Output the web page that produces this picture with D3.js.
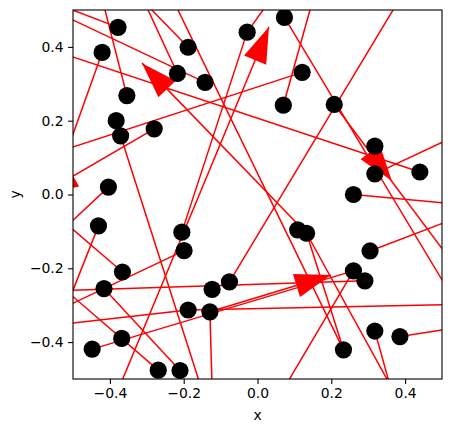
<!DOCTYPE html>
<html><head><meta charset="utf-8">
<script src="https://cdn.jsdelivr.net/npm/d3@7"></script>
<style>body{margin:0;background:#fff;} text{font-family:"DejaVu Sans",sans-serif;}</style>
</head><body><svg id="c" width="452" height="432"></svg>
<script>
const nodeX = [-0.378,-0.421,-0.354,-0.383,-0.371,-0.280,-0.188,-0.217,-0.142,-0.028,0.073,0.121,0.070,0.208,0.318,0.318,0.440,0.260,-0.404,-0.431,-0.205,-0.199,-0.366,-0.416,0.109,0.133,0.305,0.260,0.291,-0.123,-0.076,-0.188,-0.129,-0.368,-0.448,-0.269,-0.210,0.233,0.318,0.386];
const nodeY = [0.453,0.385,0.268,0.200,0.159,0.178,0.399,0.328,0.304,0.440,0.480,0.331,0.242,0.244,0.131,0.056,0.061,0.000,0.020,-0.085,-0.102,-0.152,-0.210,-0.255,-0.096,-0.105,-0.153,-0.207,-0.234,-0.257,-0.237,-0.313,-0.318,-0.390,-0.419,-0.476,-0.477,-0.421,-0.370,-0.385];

const edgeX1 = [-0.378,-0.142,-0.354,-0.217,-0.188,-0.255,-0.421,-0.514,-0.280,-0.589,0.133,-0.389,-0.028,0.070,0.073,0.208,0.416,0.318,0.260,0.305,0.386,-0.404,-0.366,-0.431,-0.589,-0.589,-0.589,-0.416,-0.589,-0.188,-0.448,-0.129,0.260,0.133,0.133,0.318,-0.371,-0.205,-0.129];
const edgeY1 = [0.453,0.304,0.268,0.328,0.399,0.581,0.385,0.124,0.178,0.402,-0.105,-0.557,0.440,0.242,0.480,0.244,0.581,0.056,0.000,-0.153,-0.385,0.020,-0.210,-0.085,-0.262,-0.337,-0.200,-0.255,-0.358,-0.313,-0.419,-0.318,-0.207,-0.105,-0.105,-0.370,0.159,-0.102,-0.318];
const edgeX2 = [-0.585,-0.589,-0.434,-0.334,-0.365,0.233,-0.514,0.121,-0.584,0.440,-0.313,0.031,0.073,0.165,0.549,0.549,-0.076,0.549,0.549,0.549,0.549,-0.514,-0.514,-0.532,0.291,-0.199,-0.269,-0.210,-0.188,0.549,0.260,-0.122,0.053,0.233,0.382,0.370,-0.142,-0.028,0.199];
const edgeY2 = [0.532,0.515,0.581,0.581,0.581,-0.421,0.124,0.331,0.001,0.061,0.356,0.454,0.581,0.581,-0.313,-0.212,-0.237,0.164,-0.027,-0.060,-0.360,-0.083,-0.083,-0.340,-0.234,-0.152,-0.476,-0.477,-0.313,-0.298,-0.207,-0.557,-0.557,-0.421,-0.557,-0.557,-0.557,0.440,-0.218];

const arrowTipX = [-0.313,0.031,0.199,0.364,-0.584];
const arrowTipY = [0.356,0.454,-0.218,0.037,0.001];
const arrowFromX = [0.133,-0.389,-0.129,0.208,-0.280];
const arrowFromY = [-0.105,-0.557,-0.318,0.244,0.178];

const tickValues = [-0.4,-0.2,0.0,0.2,0.4];

const W = 452, H = 432;
const L = 73, R = 442, T = 10, B = 379;
const svg = d3.select("#c");
svg.append("rect").attr("width",W).attr("height",H).attr("fill","#fff");
const x = d3.scaleLinear().domain([-0.5,0.5]).range([L,R]);
const y = d3.scaleLinear().domain([-0.5,0.5]).range([B,T]);

svg.append("defs").append("clipPath").attr("id","clip")
  .append("rect").attr("x",L).attr("y",T).attr("width",R-L).attr("height",B-T);
const g = svg.append("g").attr("clip-path","url(#clip)");

g.selectAll("line.e").data(d3.range(edgeX1.length)).join("line")
  .attr("x1",i=>x(edgeX1[i])).attr("y1",i=>y(edgeY1[i]))
  .attr("x2",i=>x(edgeX2[i])).attr("y2",i=>y(edgeY2[i]))
  .attr("stroke","#ff0000").attr("stroke-width",1.5);

const headLen = 36, headHalf = 12;
g.selectAll("path.a").data(d3.range(arrowTipX.length)).join("path")
  .attr("d", i => {
    const tx = x(arrowTipX[i]), ty = y(arrowTipY[i]);
    const fx = x(arrowFromX[i]), fy = y(arrowFromY[i]);
    let dx = tx-fx, dy = ty-fy; const n = Math.hypot(dx,dy); dx/=n; dy/=n;
    const bx = tx-headLen*dx, by = ty-headLen*dy;
    const px = -dy, py = dx;
    return `M${tx},${ty}L${bx+headHalf*px},${by+headHalf*py}L${bx-headHalf*px},${by-headHalf*py}Z`;
  })
  .attr("fill","#ff0000");

g.selectAll("circle").data(d3.range(nodeX.length)).join("circle")
  .attr("cx",i=>x(nodeX[i])).attr("cy",i=>y(nodeY[i])).attr("r",8.6).attr("fill","#000");

const fmt = d => (d<0?"\u2212":"") + Math.abs(d).toFixed(1);
const xAxis = svg.append("g").attr("transform",`translate(0,${B})`)
  .call(d3.axisBottom(x).tickValues(tickValues).tickFormat(fmt).tickSize(4.9).tickPadding(4.5));
const yAxis = svg.append("g").attr("transform",`translate(${L},0)`)
  .call(d3.axisLeft(y).tickValues(tickValues).tickFormat(fmt).tickSize(4.9).tickPadding(4.5));
[xAxis,yAxis].forEach(a=>{
  a.select(".domain").remove();
  a.selectAll("line").attr("stroke","#000").attr("stroke-width",1.1);
  a.selectAll("text").attr("font-size",13.9).attr("fill","#000").style("font-family","DejaVu Sans");
});
svg.append("rect").attr("x",L).attr("y",T).attr("width",R-L).attr("height",B-T)
  .attr("fill","none").attr("stroke","#000").attr("stroke-width",1.1);
svg.append("text").attr("x",(L+R)/2).attr("y",420).attr("text-anchor","middle")
  .attr("font-size",13.9).text("x");
svg.append("text").attr("transform",`translate(20,${(T+B)/2}) rotate(-90)`).attr("text-anchor","middle")
  .attr("font-size",13.9).text("y");
</script></body></html>
